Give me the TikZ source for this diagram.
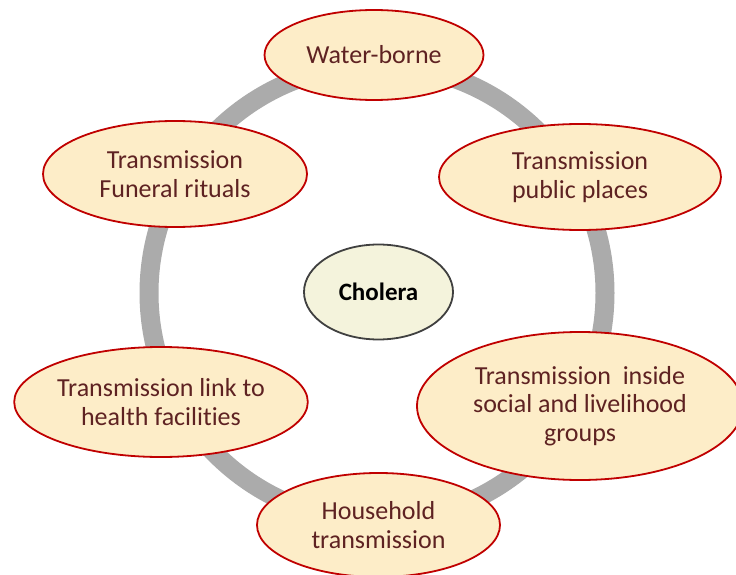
\documentclass[tikz,border=0pt]{standalone}
\usepackage{fontspec}
\setmainfont[Ligatures=NoCommon]{Carlito}
\usetikzlibrary{shapes.geometric}
\definecolor{ringgrey}{HTML}{ABABAB}
\definecolor{peach}{HTML}{FDEDC8}
\definecolor{bordred}{HTML}{C00000}
\definecolor{txtbrown}{HTML}{5E2222}
\definecolor{centfill}{HTML}{F4F3DC}
\definecolor{centbord}{HTML}{404040}
\tikzset{
  bubble/.style={ellipse, draw=bordred, line width=1.8pt, fill=peach,
    text=txtbrown, inner sep=0pt, align=center,
    font=\fontsize{26}{28.5}\selectfont},
  core/.style={ellipse, draw=centbord, line width=1.8pt, fill=centfill,
    text=black, inner sep=0pt, align=center,
    font=\fontsize{25}{28}\selectfont\bfseries},
  ring/.style={draw=ringgrey, line width=19pt}
}
\begin{document}
\begin{tikzpicture}[x=1pt,y=-1pt]
\clip (0,0) rectangle (736,575);
\fill[white] (0,0) rectangle (736,575);
\draw[ring] (377,293) circle[radius=228pt];
\node[core, minimum width=149pt, minimum height=95pt] (cholera) at (378.5,292) {Cholera};
\node[bubble, minimum width=219pt, minimum height=90pt] (water) at (374,55) {Water-borne};
\node[bubble, minimum width=264pt, minimum height=106pt] (funeral) at (175,174) {Transmission\\Funeral rituals};
\node[bubble, minimum width=282pt, minimum height=106pt] (public) at (580,177) {Transmission\\public places};
\node[bubble, minimum width=278pt, minimum height=110pt] (health) at (161,402) {Transmission link to\\health facilities};
\node[bubble, minimum width=326pt, minimum height=148pt] (social) at (580,406) {Transmission~ inside\\social and livelihood\\groups};
\node[bubble, minimum width=243pt, minimum height=104pt] (house) at (378.5,525) {Household\\transmission};
\end{tikzpicture}
\end{document}
